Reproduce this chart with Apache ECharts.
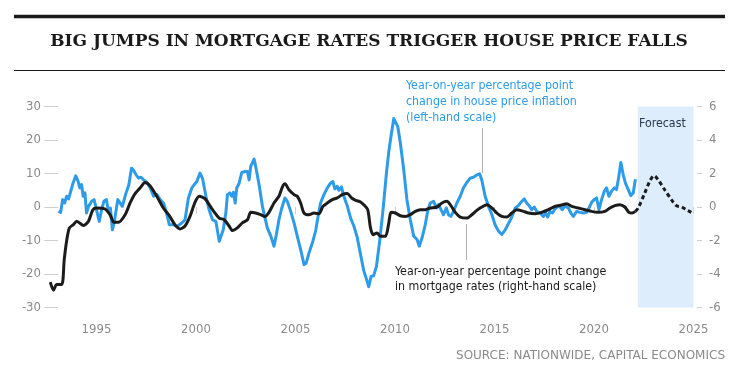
<!DOCTYPE html>
<html>
<head>
<meta charset="utf-8">
<script src="https://cdn.jsdelivr.net/npm/echarts@6/dist/echarts.min.js"></script>
<style>
html,body{margin:0;padding:0;background:#fff;}
#chart{width:752px;height:378px;}
</style>
</head>
<body>
<div id="chart"></div>
<script>
// ---- Data ----
// House price inflation, YoY percentage point change (left scale)
const hpYears = [1993.09,1993.2,1993.3,1993.4,1993.5,1993.6,1993.8,1993.96,1994.08,1994.16,1994.25,1994.33,1994.42,1994.5,1994.6,1994.76,1994.88,1995.0,1995.14,1995.26,1995.37,1995.5,1995.6,1995.7,1995.8,1995.9,1996.07,1996.17,1996.3,1996.46,1996.63,1996.76,1996.87,1996.99,1997.12,1997.24,1997.37,1997.54,1997.7,1997.87,1998.04,1998.2,1998.37,1998.54,1998.66,1998.87,1999.04,1999.29,1999.45,1999.62,1999.79,1999.87,2000.04,2000.2,2000.33,2000.5,2000.66,2000.83,2001.0,2001.17,2001.25,2001.37,2001.5,2001.58,2001.7,2001.8,2001.88,2001.97,2002.05,2002.17,2002.3,2002.47,2002.59,2002.67,2002.75,2002.83,2002.92,2003.0,2003.09,2003.17,2003.34,2003.47,2003.59,2003.76,2003.92,2004.04,2004.17,2004.31,2004.47,2004.59,2004.76,2004.93,2005.09,2005.26,2005.43,2005.54,2005.68,2005.85,2006.01,2006.15,2006.26,2006.43,2006.6,2006.76,2006.88,2006.98,2007.1,2007.18,2007.31,2007.43,2007.6,2007.77,2007.93,2008.1,2008.27,2008.43,2008.57,2008.68,2008.8,2008.93,2009.07,2009.24,2009.4,2009.57,2009.69,2009.8,2009.94,2010.02,2010.14,2010.27,2010.44,2010.6,2010.77,2010.94,2011.11,2011.22,2011.36,2011.52,2011.64,2011.77,2011.94,2012.08,2012.19,2012.31,2012.44,2012.58,2012.69,2012.81,2012.94,2013.11,2013.28,2013.44,2013.61,2013.78,2013.95,2014.11,2014.25,2014.36,2014.53,2014.7,2014.87,2015.03,2015.2,2015.37,2015.54,2015.7,2015.87,2016.04,2016.2,2016.37,2016.5,2016.62,2016.74,2016.87,2017.0,2017.12,2017.29,2017.46,2017.57,2017.67,2017.79,2017.91,2018.04,2018.18,2018.29,2018.41,2018.54,2018.71,2018.84,2018.96,2019.13,2019.29,2019.46,2019.63,2019.75,2019.88,2020.01,2020.13,2020.25,2020.38,2020.52,2020.63,2020.75,2020.88,2021.02,2021.13,2021.22,2021.35,2021.47,2021.58,2021.72,2021.85,2021.97,2022.08];
const hpVals = [-1.3,-1.6,2.2,1.2,3.2,2.4,6.7,9.3,7.6,5.7,6.7,3.2,4.2,-1.8,0.2,1.7,2.2,-0.8,-4.3,-0.8,1.7,2.2,-1.3,-0.3,-6.8,-4.3,2.2,1.7,0.2,3.7,6.7,11.6,10.9,9.6,8.6,8.9,8.1,7.3,5.7,3.2,3.7,2.2,1.2,-2.3,-5.3,-5.3,-5.8,-4.8,-3.8,2.7,5.7,6.0,7.6,10.1,8.5,3.2,-0.8,-3.8,-4.3,-10.2,-9.7,-6.8,-1.8,3.7,4.2,3.2,4.4,1.2,5.7,7.1,10.3,10.6,10.6,8.1,12.1,12.6,14.3,12.1,12.3,6.7,0.2,-3.3,-6.3,-8.7,-11.7,-8.2,-3.8,-0.3,2.7,1.7,-1.3,-4.8,-8.7,-12.7,-17.2,-16.7,-13.7,-10.7,-7.2,-2.3,1.2,3.7,5.7,7.1,7.6,5.4,6.2,5.0,6.0,3.2,0.4,-3.3,-5.6,-9.0,-14.2,-19.0,-21.6,-23.8,-20.7,-20.5,-17.7,-9.7,-0.8,10.1,16.6,21.1,26.4,26.0,24.0,19.1,11.1,2.2,-3.8,-8.7,-9.7,-11.7,-9.2,-5.3,-1.3,1.2,1.7,-0.3,0.7,-0.8,-2.3,-0.3,-2.3,-2.8,-1.3,1.2,3.2,5.7,7.3,8.6,8.9,9.6,9.9,8.1,3.2,0.2,-2.3,-5.3,-7.2,-8.2,-6.8,-5.0,-3.0,-0.3,0.4,1.7,2.4,1.2,0.4,-0.8,0,-1.3,-1.8,-2.8,-1.8,-3.0,-1.3,-1.8,-0.6,0.2,0,-0.8,0.4,-0.3,-1.8,-2.8,-1.3,-1.6,-1.8,-1.6,-0.3,1.4,2.2,2.7,-0.8,2.2,4.7,5.7,3.2,4.7,5.7,5.2,8.1,13.3,9.6,7.1,5.2,3.4,4.2,8.3];

// Mortgage rates, YoY percentage point change (right scale)
const mrYears = [1992.68,1992.84,1993.0,1993.26,1993.38,1993.51,1993.64,1993.84,1994.01,1994.35,1994.6,1994.82,1995.02,1995.43,1995.68,1995.88,1996.1,1996.44,1996.69,1996.94,1997.19,1997.44,1997.69,1998.03,1998.36,1998.66,1998.94,1999.2,1999.44,1999.7,1999.95,2000.17,2000.45,2000.83,2001.17,2001.42,2001.67,2001.83,2002.08,2002.33,2002.59,2002.75,2003.0,2003.25,2003.47,2003.67,2003.92,2004.17,2004.34,2004.47,2004.67,2004.93,2005.09,2005.26,2005.43,2005.68,2005.93,2006.18,2006.38,2006.6,2006.85,2007.1,2007.35,2007.6,2007.82,2008.02,2008.27,2008.43,2008.63,2008.77,2008.9,2009.1,2009.27,2009.52,2009.69,2009.8,2010.02,2010.27,2010.52,2010.77,2011.02,2011.27,2011.52,2011.77,2012.11,2012.36,2012.61,2012.81,2013.03,2013.28,2013.61,2013.86,2014.11,2014.36,2014.62,2014.87,2015.12,2015.37,2015.62,2015.87,2016.12,2016.45,2016.71,2017.04,2017.37,2017.71,2018.04,2018.38,2018.63,2018.88,2019.21,2019.55,2019.88,2020.21,2020.55,2020.8,2021.05,2021.3,2021.55,2021.75,2021.92,2022.08];
const mrVals = [-4.49,-4.97,-4.63,-4.63,-3.14,-1.95,-1.25,-1.05,-0.85,-1.11,-0.85,-0.16,-0.06,-0.12,-0.46,-0.91,-0.91,-0.46,0.24,0.80,1.13,1.47,1.27,0.64,-0.06,-0.52,-1.05,-1.31,-1.15,-0.56,0.28,0.64,0.5,-0.16,-0.66,-0.76,-1.15,-1.41,-1.25,-0.95,-0.76,-0.32,-0.36,-0.46,-0.56,-0.32,0.24,0.64,1.19,1.39,1.03,0.74,0.64,0.24,-0.36,-0.46,-0.36,-0.40,0.04,0.24,0.44,0.54,0.74,0.8,0.54,0.4,0.3,0.14,-0.16,-1.25,-1.65,-1.55,-1.75,-1.75,-0.95,-0.32,-0.36,-0.52,-0.56,-0.46,-0.26,-0.16,-0.16,-0.06,0,0.24,0.34,0.08,-0.32,-0.6,-0.66,-0.46,-0.2,0,0.14,-0.06,-0.36,-0.56,-0.6,-0.36,-0.16,-0.26,-0.36,-0.40,-0.32,-0.16,0.04,0.12,0.2,0.04,-0.06,-0.16,-0.26,-0.32,-0.26,-0.06,0.08,0.14,0,-0.32,-0.36,-0.26];

// Mortgage rates forecast (right scale)
const fcYears = [2022.08,2022.22,2022.55,2022.8,2023.02,2023.22,2023.55,2023.89,2024.14,2024.39,2024.64,2024.89];
const fcVals = [-0.26,-0.06,0.83,1.53,1.87,1.63,1.03,0.44,0.08,0,-0.16,-0.32];

// Forecast period and axis ticks
const forecastStart = 2022.2, forecastEnd = 2025.12;
const xTicks = [1995, 2000, 2005, 2010, 2015, 2020, 2025];
const leftTicks = [-30, 30, 10];   // min, max, interval
const rightTicks = [-6, 6, 2];

const title = 'BIG JUMPS IN MORTGAGE RATES TRIGGER HOUSE PRICE FALLS';
const hpLabel = 'Year-on-year percentage point\nchange in house price inflation\n(left-hand scale)';
const mrLabel = 'Year-on-year percentage point change\nin mortgage rates (right-hand scale)';
const source = 'SOURCE: NATIONWIDE, CAPITAL ECONOMICS';

// ---- Chart ----
const COND = '"DejaVu Sans Condensed","Liberation Sans Narrow",sans-serif';
const zip = (a, b) => a.map((v, i) => [v, b[i]]);
const chart = echarts.init(document.getElementById('chart'), null, {renderer: 'canvas'});
const axisLabelStyle = {color: '#8a8a8a', fontSize: 13, fontFamily: COND};

chart.setOption({
  animation: false,
  backgroundColor: '#fff',
  grid: {left: 49.7, right: 58.5, top: 106.5, bottom: 70.5},
  xAxis: {
    type: 'value', min: 1992.65, max: 2025,
    offset: 4,
    axisLine: {show: false},
    splitLine: {show: false},
    axisTick: {show: true, length: 7, customValues: xTicks, lineStyle: {color: '#cfcfcf', width: 1}},
    axisLabel: Object.assign({margin: 12, customValues: xTicks, formatter: v => String(v)}, axisLabelStyle)
  },
  yAxis: [
    {
      type: 'value', min: leftTicks[0], max: leftTicks[1], interval: leftTicks[2], position: 'left',
      offset: -8.3,
      axisLine: {show: false}, splitLine: {show: false},
      axisTick: {show: true, length: 14, lineStyle: {color: '#cfcfcf', width: 1}},
      axisLabel: Object.assign({margin: 17}, axisLabelStyle)
    },
    {
      type: 'value', min: rightTicks[0], max: rightTicks[1], interval: rightTicks[2], position: 'right',
      offset: 3.5,
      axisLine: {show: false}, splitLine: {show: false},
      axisTick: {show: true, length: 5, lineStyle: {color: '#cfcfcf', width: 1}},
      axisLabel: Object.assign({margin: 12}, axisLabelStyle)
    }
  ],
  series: [
    {
      type: 'line', name: 'forecastArea', data: [], yAxisIndex: 0, silent: true, z: 1,
      markArea: {
        silent: true,
        itemStyle: {color: '#ddedfc'},
        data: [[{xAxis: forecastStart}, {xAxis: forecastEnd}]]
      },
      markLine: {
        silent: true, symbol: 'none', label: {show: false},
        lineStyle: {color: '#555', width: 1, type: 'solid'},
        data: [[{coord: [1992.75, 0]}, {coord: [2025.05, 0]}]]
      }
    },
    {
      type: 'line', name: 'House prices', yAxisIndex: 0, z: 3,
      data: zip(hpYears, hpVals), showSymbol: false, symbol: 'none',
      lineStyle: {color: '#2e9be8', width: 3, join: 'round'}
    },
    {
      type: 'line', name: 'Mortgage rates', yAxisIndex: 1, z: 4,
      data: zip(mrYears, mrVals), showSymbol: false, symbol: 'none', smooth: 0.25,
      lineStyle: {color: '#1c1c1c', width: 3, join: 'round'}
    },
    {
      type: 'line', name: 'Forecast', yAxisIndex: 1, z: 4,
      data: zip(fcYears, fcVals), showSymbol: false, symbol: 'none', smooth: 0.3,
      lineStyle: {color: '#1c1c1c', width: 3, type: [4, 3]}
    }
  ],
  graphic: [
    {type: 'line', z: 100, shape: {x1: 14, y1: 16.5, x2: 725, y2: 16.5}, style: {stroke: '#1a1a1a', lineWidth: 3.5}, silent: true},
    {type: 'line', z: 100, shape: {x1: 14, y1: 70.5, x2: 725, y2: 70.5}, style: {stroke: '#1a1a1a', lineWidth: 1.2}, silent: true},
    {type: 'text', z: 100, x: 369, y: 42, style: {text: title, fill: '#1a1a1a', fontFamily: '"DejaVu Serif","Liberation Serif",serif', fontWeight: 'bold', fontSize: 17, align: 'center', verticalAlign: 'middle'}, silent: true},
    {type: 'text', z: 100, x: 406, y: 78, style: {text: hpLabel, fill: '#2e9be8', fontFamily: COND, fontSize: 12.3, lineHeight: 16, align: 'left', verticalAlign: 'top'}, silent: true},
    {type: 'text', z: 100, x: 395, y: 264, style: {text: mrLabel, fill: '#1a1a1a', fontFamily: COND, fontSize: 12.3, lineHeight: 15.5, align: 'left', verticalAlign: 'top'}, silent: true},
    {type: 'line', z: 100, shape: {x1: 482.5, y1: 128, x2: 482.5, y2: 173}, style: {stroke: '#b0b0b0', lineWidth: 1}, silent: true},
    {type: 'line', z: 100, shape: {x1: 466.5, y1: 224, x2: 466.5, y2: 260}, style: {stroke: '#b0b0b0', lineWidth: 1}, silent: true},
    {type: 'text', z: 100, x: 639, y: 124, style: {text: 'Forecast', fill: '#2a3350', fontFamily: COND, fontSize: 12.3, align: 'left', verticalAlign: 'middle'}, silent: true},
    {type: 'text', z: 100, x: 725, y: 356, style: {text: source, fill: '#8a8a8a', fontFamily: '"DejaVu Sans",sans-serif', fontSize: 12, align: 'right', verticalAlign: 'middle'}, silent: true}
  ]
});
</script>
</body>
</html>
